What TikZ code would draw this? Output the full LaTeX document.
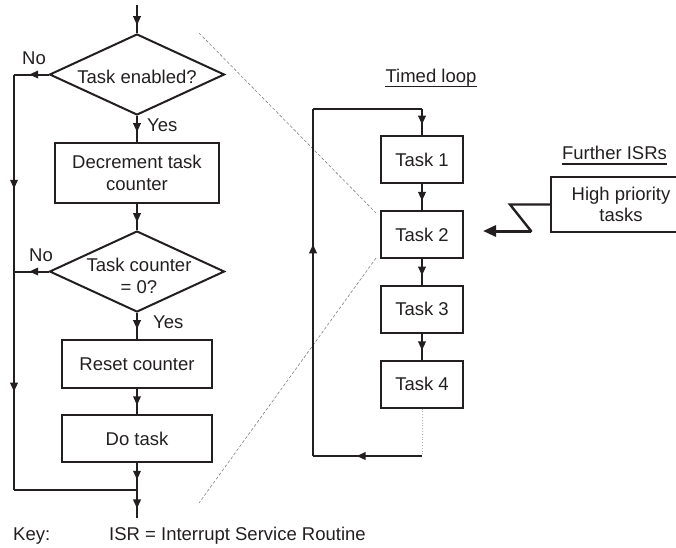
\documentclass[tikz,border=0pt]{standalone}
\usepackage{fontspec}
\setmainfont{Liberation Sans}
\usetikzlibrary{shapes.geometric,arrows.meta,decorations.markings}
\definecolor{ink}{RGB}{35,31,32}
\tikzset{
  every node/.style={font=\fontsize{18.5}{21.5}\selectfont, text=ink},
  ln/.style={draw=ink, line width=2pt},
  marr/.style={ln, postaction={decorate}, decoration={markings, mark=at position #1 with {\arrow[ink]{Triangle[length=9pt,width=7.5pt]}}}},
  decision/.style={diamond, draw=ink, line width=2pt, inner sep=0pt, minimum width=175pt, minimum height=81pt},
  procbox/.style={rectangle, draw=ink, line width=2pt, inner sep=0pt, align=center},
  taskbox/.style={procbox, minimum width=82pt, minimum height=47pt},
  lbl/.style={inner sep=0pt, align=center},
  guide/.style={draw=gray, line width=0.6pt, dash pattern=on 3pt off 2pt}
}
\begin{document}
\begin{tikzpicture}[x=1pt,y=-1pt]
\useasboundingbox (0,0) rectangle (676,547);
\clip (0,0) rectangle (676,547);
% ---------- left flowchart ----------
\coordinate (top) at (137,5);
\node[decision] (d1) at (137,74.5) {};
\node[lbl] (d1t) at (137,77) {Task enabled?};
\node[procbox, minimum width=164pt, minimum height=60pt] (b1) at (137,173) {Decrement task\\counter};
\node[decision] (d2) at (137,271.5) {};
\node[lbl] (d2t) at (139,276) {Task counter\\= 0?};
\node[procbox, minimum width=150pt, minimum height=48pt] (b2) at (137,364) {Reset counter};
\node[procbox, minimum width=150pt, minimum height=47pt] (b3) at (137,438.5) {Do task};
\coordinate (join) at (137,490);
\coordinate (fin) at (137,518);
\coordinate (l1) at (14,74.5);
\coordinate (l2) at (14,271.5);
\coordinate (l3) at (14,490);

\draw[marr=0.72] (top) -- (d1.north);
\draw[marr=0.62] (d1.south) -- (b1.north);
\draw[marr=0.7] (b1.south) -- (d2.north);
\draw[marr=0.62] (d2.south) -- (b2.north);
\draw[marr=0.65] (b2.south) -- (b3.north);
\draw[marr=0.62] (b3.south) -- (join);
\draw[marr=0.66] (join) -- (fin);
\draw[marr=0.56] (d1.west) -- (l1);
\draw[marr=0.58] (l1) -- (l2);
\draw[marr=0.56] (d2.west) -- (l2);
\draw[marr=0.55] (l2) -- (l3);
\draw[ln] (l3) -- (join);

\node[lbl] (no1) at (34,58) {No};
\node[lbl] (no2) at (41,255) {No};
\node[lbl, anchor=west] (yes1) at (147,125) {Yes};
\node[lbl, anchor=west] (yes2) at (153,322) {Yes};

% ---------- guide lines ----------
\coordinate (g1) at (199,33);
\coordinate (g2) at (376,213);
\coordinate (g3) at (376,258);
\coordinate (g4) at (199,503);
\draw[guide] (g1) -- (g2);
\draw[guide] (g3) -- (g4);

% ---------- timed loop ----------
\node[lbl, anchor=base] (tl) at (431,82) {Timed loop};
\draw[ln, line width=1.6pt] ([yshift=-4.5pt]tl.base west) -- ([yshift=-4.5pt]tl.base east);
\node[taskbox] (t1) at (422,159.5) {Task 1};
\node[taskbox] (t2) at (422,234.5) {Task 2};
\node[taskbox] (t3) at (422,309) {Task 3};
\node[taskbox] (t4) at (422,384) {Task 4};
\coordinate (ltop) at (313,109);
\coordinate (rtop) at (422,109);
\coordinate (lbot) at (313,456);
\coordinate (rbot) at (422,456);
\draw[ln] (ltop) -- (rtop);
\draw[marr=0.6] (rtop) -- (t1.north);
\draw[marr=0.65] (t1.south) -- (t2.north);
\draw[marr=0.65] (t2.south) -- (t3.north);
\draw[marr=0.65] (t3.south) -- (t4.north);
\draw[draw=gray!60, line width=0.8pt, dotted] (t4.south) -- (rbot);
\draw[marr=0.6] (rbot) -- (lbot);
\draw[marr=0.61] (lbot) -- (ltop);

% ---------- further ISRs ----------
\node[lbl, anchor=base] (fi) at (614.5,159) {Further ISRs};
\draw[ln, line width=1.6pt] ([yshift=-5pt]fi.base west) -- ([yshift=-5pt]fi.base east);
\node[procbox, minimum width=140pt, minimum height=55pt] (hp) at (621,204.5) {High priority\\tasks};
\coordinate (z1) at (510,204.5);
\coordinate (z2) at (531,231);
\coordinate (zt) at (483,231);
\draw[ln, line width=2.4pt, line join=miter] (hp.west) -- (z1) -- (z2) -- ++(1.2,0);
\draw[draw=ink, line width=3pt, -{Triangle[length=13pt,width=11pt]}] (z2) -- (zt);

% ---------- key ----------
\node[lbl, anchor=base west] (key) at (13,540) {Key:};
\node[lbl, anchor=base west] (keyt) at (109,540) {ISR = Interrupt Service Routine};
\end{tikzpicture}
\end{document}
